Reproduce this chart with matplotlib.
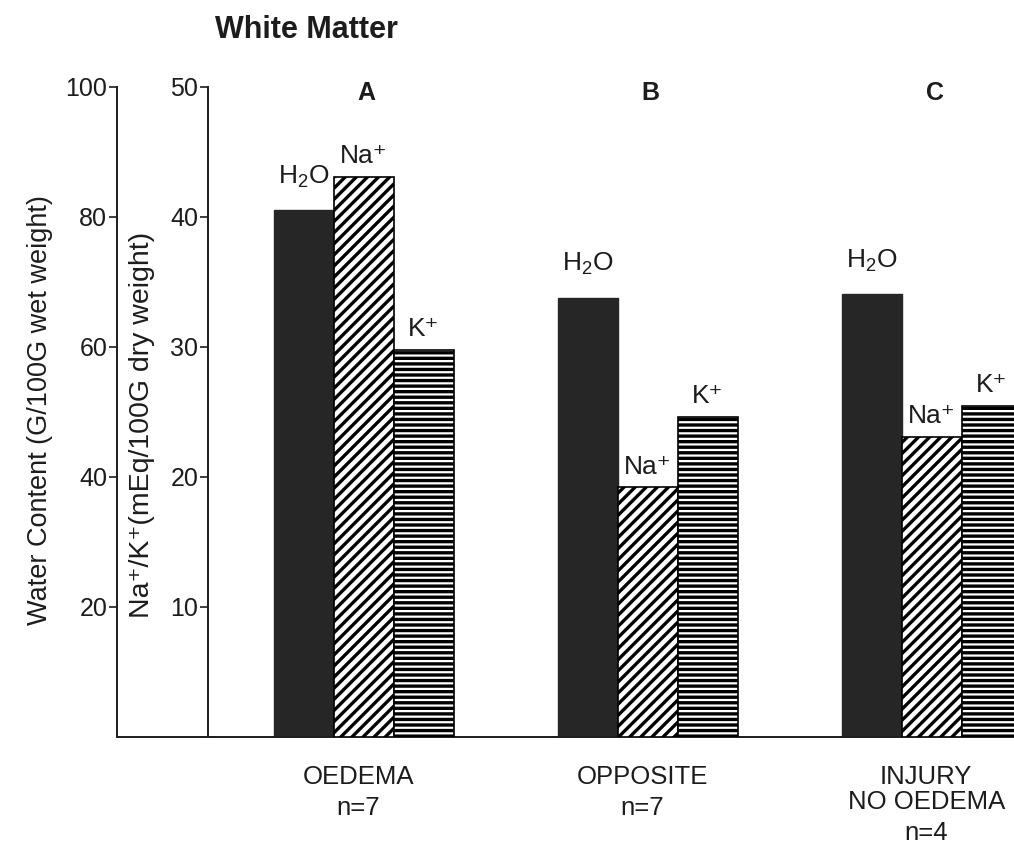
"""White matter water and electrolyte content after injury, grouped bars."""

import matplotlib
matplotlib.use("Agg")
import matplotlib.pyplot as plt
import numpy as np
from matplotlib.transforms import blended_transform_factory

# group letters, x labels and group sizes
groups = ["A", "B", "C"]
categories = ["OEDEMA", "OPPOSITE", "INJURY\nNO OEDEMA"]
counts = [7, 7, 4]

# water content, G/100G wet weight (outer axis)
water = [81.1, 67.6, 68.2]
# electrolytes, mEq/100G dry weight (inner axis)
sodium = [43.1, 19.2, 23.1]
potassium = [29.8, 24.6, 25.5]

water_ticks = [20, 40, 60, 80, 100]
ion_ticks = [10, 20, 30, 40, 50]

INK = "#1c1c1c"
BAR = "#262626"

plt.rcParams["font.family"] = ["Liberation Sans", "DejaVu Sans"]
plt.rcParams["mathtext.default"] = "regular"
plt.rcParams["hatch.linewidth"] = 2.4
plt.rcParams["text.color"] = INK

W, H = 1014, 849
fig = plt.figure(figsize=(W / 100, H / 100), dpi=100)
rect = [208 / W, 112 / H, 806 / W, 650 / H]
ax_w = fig.add_axes(rect)
ax_i = fig.add_axes(rect, sharex=ax_w)
ax_i.patch.set_visible(False)

x = np.arange(len(groups))
width = 0.211

ax_w.bar(x - width, water, width, color=BAR, edgecolor=BAR, linewidth=1)
ax_i.bar(x, sodium, width, facecolor="white", edgecolor="black",
         hatch="///", linewidth=1.2)
ax_i.bar(x + width, potassium, width, facecolor="white", edgecolor="black",
         hatch="---", linewidth=1.2)

ax_w.set_xlim(-0.549, 2.289)
ax_w.set_ylim(0, 100)
ax_i.set_ylim(0, 50)

# bar labels
for xi, v in zip(x, water):
    ax_w.annotate("H$_2$O", (xi - width, v), xytext=(0, 19),
                  textcoords="offset points", ha="center", va="baseline",
                  fontsize=19)
for xi, v in zip(x, sodium):
    ax_i.annotate("Na\u207a", (xi, v), xytext=(0, 10),
                  textcoords="offset points", ha="center", va="baseline",
                  fontsize=19)
for xi, v in zip(x, potassium):
    ax_i.annotate("K\u207a", (xi + width, v), xytext=(0, 10),
                  textcoords="offset points", ha="center", va="baseline",
                  fontsize=19)

# group letters along the top
top = blended_transform_factory(ax_w.transData, ax_w.transAxes)
for xi, g in zip(x, groups):
    ax_w.text(xi + 0.01, 0.99, g, transform=top, ha="center", va="center",
              fontsize=18, fontweight="bold")

# category names under the groups, with n below each
for xi, name, n in zip(x, categories, counts):
    label = ax_w.annotate(name, (xi - 0.02, 0), xycoords=top,
                          xytext=(0, -20), textcoords="offset points",
                          ha="center", va="top", fontsize=18.5,
                          linespacing=1.05)
    ax_w.annotate(f"n={n}", (0.5, 0), xycoords=label,
                  xytext=(0, -5), textcoords="offset points",
                  ha="center", va="top", fontsize=18.5)

# axes styling
for ax in (ax_w, ax_i):
    for side in ("top", "right"):
        ax.spines[side].set_visible(False)
    ax.spines["left"].set_color(INK)
    ax.spines["left"].set_linewidth(1.4)
    ax.tick_params(axis="y", direction="out", length=6, width=1.2,
                   colors=INK, labelsize=18, pad=1)
    ax.tick_params(axis="x", bottom=False, labelbottom=False)

ax_w.spines["left"].set_position(("outward", 65.5))
ax_w.spines["bottom"].set_color(INK)
ax_w.spines["bottom"].set_linewidth(1.4)
ax_i.spines["bottom"].set_visible(False)
ax_w.set_yticks(water_ticks)
ax_i.set_yticks(ion_ticks)

# baseline runs on to the outer axis
ax_w.plot([-91 / 806, 0], [0, 0], transform=ax_w.transAxes, clip_on=False,
          color=INK, linewidth=1.4, solid_capstyle="butt")

fig.text(40 / W, 1 - 410 / H, "Water Content (G/100G wet weight)",
         rotation=90, ha="center", va="center", fontsize=19.5)
fig.text(142 / W, 1 - 425 / H, "Na\u207a/K\u207a(mEq/100G dry weight)",
         rotation=90, ha="center", va="center", fontsize=20.5)
fig.text(215 / W, 1 - 30 / H, "White Matter", ha="left", va="center",
         fontsize=22, fontweight="bold")

fig.savefig("out.png", dpi=100, facecolor="white")
